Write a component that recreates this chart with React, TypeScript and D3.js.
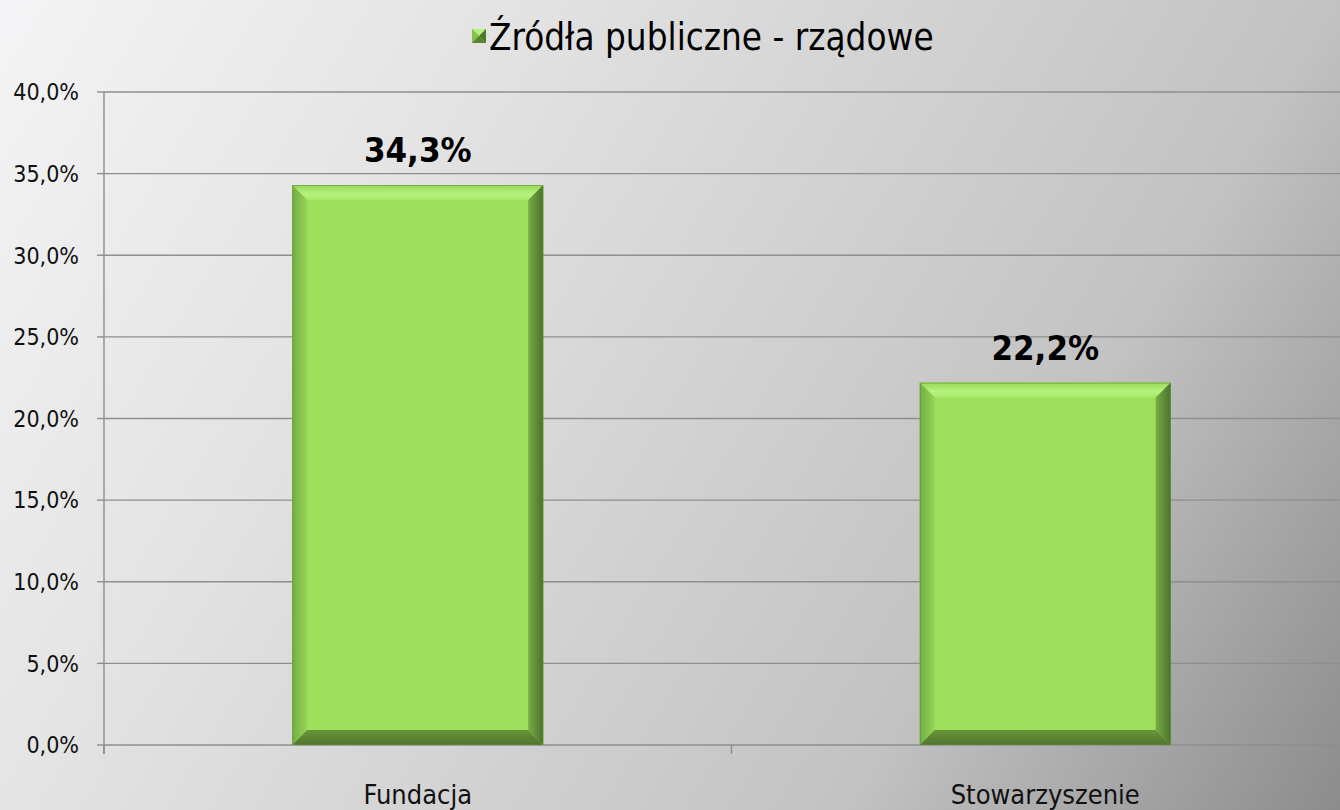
import React from 'react';
import * as d3 from 'd3';

const categories = ['Fundacja', 'Stowarzyszenie'];
const values = [34.3, 22.2];
const yTicks = [0, 5, 10, 15, 20, 25, 30, 35, 40];
const seriesName = 'Źródła publiczne - rządowe';

const W = 1340;
const H = 810;
const FONT = "'DejaVu Sans Condensed', 'DejaVu Sans', sans-serif";

const fmt = (v: number) => v.toFixed(1).replace('.', ',') + '%';

const App: React.FC = () => {
    const left = 104;
    const right = 1359;
    const top = 92;
    const bottom = 745;

    const x = d3.scaleBand<string>()
        .domain(categories)
        .range([left, right])
        .paddingInner(0.6)
        .paddingOuter(0.3);

    const step = (right - left) / categories.length;

    const y = d3.scaleLinear()
        .domain([0, 40])
        .range([bottom, top]);

    const b = 15; // bevel size

    return (
        <svg width={W} height={H} style={{ position: 'absolute', left: 0, top: 0 }}>
            <defs>
                <linearGradient id="bg" gradientUnits="userSpaceOnUse" x1={0} y1={0} x2={W} y2={H}>
                    <stop offset="0" stopColor="#f4f4f6" />
                    <stop offset="0.27" stopColor="#e4e4e5" />
                    <stop offset="0.73" stopColor="#c2c2c2" />
                    <stop offset="1" stopColor="#8c8c8c" />
                </linearGradient>
                <linearGradient id="bevTop" x1="0" y1="0" x2="0" y2="1">
                    <stop offset="0" stopColor="#98d858" />
                    <stop offset="0.6" stopColor="#b6f27e" />
                    <stop offset="1" stopColor="#a6e868" />
                </linearGradient>
                <linearGradient id="bevLeft" x1="0" y1="0" x2="1" y2="0">
                    <stop offset="0" stopColor="#74ae44" />
                    <stop offset="1" stopColor="#94d456" />
                </linearGradient>
                <linearGradient id="bevRight" x1="0" y1="0" x2="1" y2="0">
                    <stop offset="0" stopColor="#78ac48" />
                    <stop offset="1" stopColor="#4a7229" />
                </linearGradient>
                <linearGradient id="bevBottom" x1="0" y1="0" x2="0" y2="1">
                    <stop offset="0" stopColor="#68943b" />
                    <stop offset="1" stopColor="#52752e" />
                </linearGradient>
            </defs>

            <rect x={0} y={0} width={W} height={H} fill="url(#bg)" />

            {/* gridlines */}
            {yTicks.map(t => (
                <line key={'g' + t} x1={left} x2={W} y1={y(t)} y2={y(t)}
                    stroke="#8e8e8e" strokeWidth={1.4} />
            ))}

            {/* y axis */}
            <line x1={left} x2={left} y1={top} y2={bottom + 9} stroke="#8e8e8e" strokeWidth={1.4} />
            {yTicks.map(t => (
                <g key={'t' + t}>
                    <line x1={left - 7} x2={left} y1={y(t)} y2={y(t)} stroke="#8e8e8e" strokeWidth={1.4} />
                    <text x={79} y={y(t)} dy="0.36em" textAnchor="end"
                        fontFamily={FONT} fontSize={23} fill="#111">{fmt(t)}</text>
                </g>
            ))}

            {/* x axis ticks */}
            {d3.range(categories.length + 1).map(i => (
                <line key={'xt' + i} x1={left + i * step} x2={left + i * step}
                    y1={bottom} y2={bottom + 9} stroke="#8e8e8e" strokeWidth={1.4} />
            ))}

            {/* bars */}
            {categories.map((c, i) => {
                const x0 = x(c) as number;
                const x1 = x0 + x.bandwidth();
                const y0 = y(values[i]);
                const y1 = y(0);
                return (
                    <g key={c}>
                        <rect x={x0} y={y0} width={x1 - x0} height={y1 - y0} fill="#9ee05c" />
                        <polygon points={`${x0},${y0} ${x1},${y0} ${x1 - b},${y0 + b} ${x0 + b},${y0 + b}`} fill="url(#bevTop)" />
                        <polygon points={`${x0},${y0} ${x0 + b},${y0 + b} ${x0 + b},${y1 - b} ${x0},${y1}`} fill="url(#bevLeft)" />
                        <polygon points={`${x1},${y0} ${x1},${y1} ${x1 - b},${y1 - b} ${x1 - b},${y0 + b}`} fill="url(#bevRight)" />
                        <polygon points={`${x0},${y1} ${x0 + b},${y1 - b} ${x1 - b},${y1 - b} ${x1},${y1}`} fill="url(#bevBottom)" />
                        <rect x={x0 + 0.5} y={y0 + 0.5} width={x1 - x0 - 1} height={y1 - y0 - 1}
                            fill="none" stroke="#5e8c36" strokeWidth={1} strokeOpacity={0.6} />
                        <text x={(x0 + x1) / 2} y={y0 - 23} textAnchor="middle"
                            fontFamily={FONT} fontSize={34.5} fontWeight="bold" fill="#000">
                            {fmt(values[i])}
                        </text>
                        <text x={left + step * (i + 0.5)} y={804} textAnchor="middle"
                            fontFamily={FONT} fontSize={27} fill="#111">{c}</text>
                    </g>
                );
            })}

            {/* legend */}
            <g>
                <rect x={472} y={29} width={14} height={14} fill="#9ee05c" />
                <polygon points="472,29 486,29 479,36" fill="#b4f07c" />
                <polygon points="472,29 479,36 472,43" fill="#84c24c" />
                <polygon points="486,29 486,43 479,36" fill="#4e7a2c" />
                <polygon points="472,43 479,36 486,43" fill="#5a822f" />
                <text x={489} y={50} fontFamily={FONT} fontSize={36.5} fill="#000">{seriesName}</text>
            </g>
        </svg>
    );
};

export default App;
